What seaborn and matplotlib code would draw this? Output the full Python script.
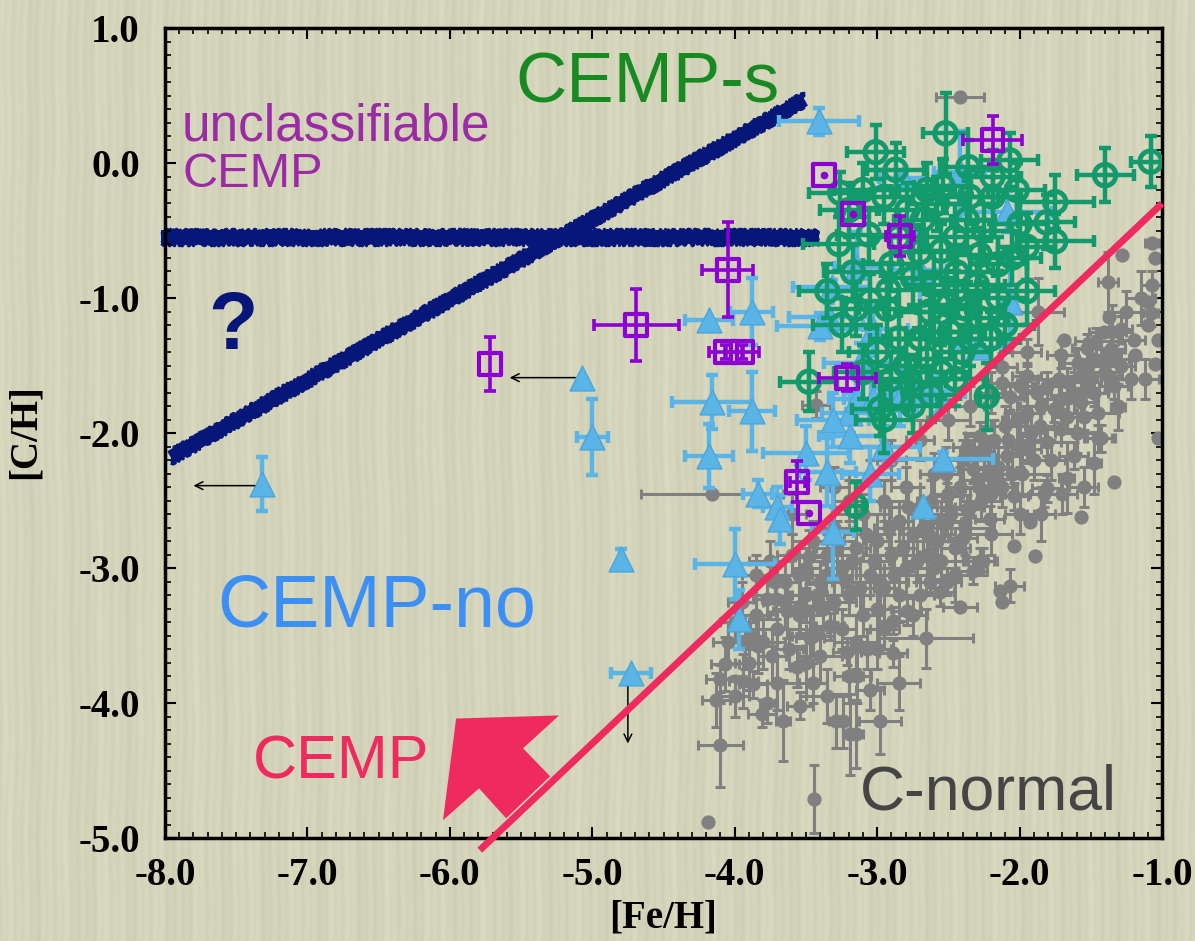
import numpy as np
import matplotlib
matplotlib.use("Agg")
import matplotlib.pyplot as plt
from matplotlib.patches import Polygon
from matplotlib.ticker import MultipleLocator, FormatStrFormatter
import matplotlib.transforms as mtransforms
import seaborn as sns

# ---------------- data ----------------
# each row: [Fe/H], [C/H], xerr, yerr   (0 = no error bar)
cemp_no_pts = [
    (-3.41, 0.31, 0.28, 0.10), (-7.32, -2.38, 0, 0.20), (-5.07, -1.59, 0, 0),
    (-5.00, -2.03, 0.11, 0.28), (-4.80, -2.93, 0, 0.07), (-4.73, -3.78, 0.14, 0),
    (-4.18, -1.16, 0.17, 0), (-3.88, -1.10, 0.15, 0.25), (-4.16, -1.77, 0.28, 0.20),
    (-3.88, -1.84, 0.16, 0.29), (-4.18, -2.17, 0.17, 0.24), (-4.00, -2.97, 0.28, 0.26),
    (-3.97, -3.38, 0, 0.22), (-3.84, -2.45, 0.10, 0.10), (-3.70, -2.55, 0.10, 0.15),
    (-3.68, -2.64, 0, 0.18), (-2.68, -2.54, 0, 0), (-2.42, -0.07, 0.18, 0.31),
    (-2.09, -0.36, 0.32, 0.15), (-2.82, -0.11, 0.17, 0.05), (-3.14, -0.77, 0.16, 0.26),
    (-2.70, -0.79, 0.19, 0.27), (-2.07, -1.03, 0.05, 0.30), (-3.32, -0.92, 0.27, 0.05),
    (-3.34, -1.14, 0.28, 0.10), (-2.29, -1.36, 0.18, 0.05), (-3.19, -1.85, 0.20, 0.15),
    (-2.84, -1.67, 0.20, 0.15), (-3.31, -1.90, 0.25, 0.20), (-3.19, -2.02, 0.22, 0.20),
    (-3.14, -1.75, 0.20, 0.15), (-3.03, -1.75, 0.20, 0.15), (-2.84, -1.75, 0.20, 0.20),
    (-2.72, -1.70, 0.20, 0.15), (-2.58, -1.70, 0.20, 0.15), (-2.54, -2.19, 0.35, 0.05),
    (-3.35, -2.29, 0.20, 0.25), (-3.31, -2.73, 0.15, 0.35), (-3.03, -1.23, 0.25, 0.20),
    (-3.40, -1.21, 0.30, 0.10), (-3.12, -1.48, 0.25, 0.15), (-3.05, -2.30, 0.20, 0.20),
    (-2.95, -2.10, 0.25, 0.15), (-3.50, -2.15, 0.30, 0.20),
]

cemp_s_pts = [
    (-2.52, 0.22, 0.16, 0.30), (-3.01, 0.08, 0.20, 0.20), (-2.87, -0.05, 0.20, 0.20),
    (-3.26, -0.22, 0.22, 0.15), (-1.40, -0.09, 0.20, 0.20), (-1.08, 0.01, 0.14, 0.19),
    (-1.75, -0.29, 0.27, 0.20), (-2.07, 0.02, 0.20, 0.20), (-2.19, -0.25, 0.20, 0.20),
    (-2.02, -0.20, 0.20, 0.20), (-1.81, -0.44, 0.20, 0.20), (-1.75, -0.58, 0.27, 0.20),
    (-1.95, -0.62, 0.20, 0.25), (-3.06, -0.53, 0.22, 0.20), (-3.27, -0.60, 0.25, 0.20),
    (-3.17, -0.81, 0.20, 0.20), (-2.92, -0.94, 0.25, 0.20), (-3.05, -1.02, 0.20, 0.20),
    (-2.93, -1.08, 0.20, 0.20), (-3.15, -1.08, 0.20, 0.20), (-2.44, -0.81, 0.25, 0.20),
    (-2.37, -1.08, 0.25, 0.20), (-1.95, -0.95, 0.20, 0.25), (-2.28, -0.68, 0.20, 0.20),
    (-2.70, -0.66, 0.20, 0.20), (-2.68, -0.42, 0.20, 0.20), (-2.79, -0.35, 0.20, 0.20),
    (-2.37, -0.42, 0.20, 0.20), (-2.54, -0.17, 0.20, 0.20), (-2.36, -0.03, 0.20, 0.20),
    (-2.19, -0.10, 0.20, 0.20), (-2.49, -1.25, 0.25, 0.20), (-2.28, -1.15, 0.20, 0.20),
    (-2.63, -1.10, 0.20, 0.20), (-3.48, -1.62, 0.20, 0.22), (-2.77, -1.62, 0.25, 0.20),
    (-2.23, -1.73, 0.05, 0.25), (-3.15, -2.54, 0.05, 0.18), (-2.58, -0.30, 0.20, 0.20),
    (-2.45, -0.55, 0.25, 0.25), (-2.60, -0.90, 0.20, 0.25), (-2.30, -0.90, 0.20, 0.20),
    (-2.85, -1.30, 0.20, 0.20), (-2.65, -1.45, 0.20, 0.20), (-2.40, -1.40, 0.20, 0.20),
    (-2.90, -0.75, 0.20, 0.20), (-2.15, -0.75, 0.20, 0.20), (-3.20, -0.35, 0.20, 0.20),
    (-2.00, -0.45, 0.20, 0.20), (-2.95, -1.90, 0.20, 0.25), (-2.55, -1.55, 0.20, 0.20),
]

cemp_s_dense = [
    (-3.10, -0.20, 0.20, 0.20), (-2.95, -0.25, 0.20, 0.20), (-2.85, -0.55, 0.20, 0.20),
    (-2.75, -0.85, 0.20, 0.20), (-2.65, -0.20, 0.20, 0.20), (-2.55, -0.65, 0.20, 0.20),
    (-2.45, -0.95, 0.20, 0.20), (-2.35, -0.25, 0.20, 0.20), (-2.25, -0.50, 0.20, 0.20),
    (-2.15, -1.00, 0.20, 0.20), (-2.05, -0.70, 0.20, 0.20), (-2.50, -1.05, 0.20, 0.20),
    (-2.60, -1.25, 0.20, 0.20), (-2.70, -1.30, 0.20, 0.20), (-2.80, -1.50, 0.20, 0.20),
    (-2.90, -1.60, 0.20, 0.20), (-3.00, -1.40, 0.20, 0.20), (-3.10, -1.55, 0.20, 0.20),
    (-2.45, -1.60, 0.20, 0.20), (-2.35, -1.30, 0.20, 0.20), (-2.20, -1.30, 0.20, 0.20),
    (-2.10, -1.20, 0.20, 0.20), (-3.25, -1.20, 0.20, 0.20), (-3.35, -0.95, 0.20, 0.20),
    (-2.98, -1.82, 0.20, 0.20), (-2.75, -1.80, 0.20, 0.20), (-2.62, -1.72, 0.20, 0.20),
]

unclass_pts = [
    (-5.72, -1.49, 0, 0.20), (-4.69, -1.20, 0.30, 0.27), (-4.05, -0.79, 0.18, 0.35),
    (-4.06, -1.40, 0.12, 0.05), (-3.95, -1.40, 0.12, 0.05), (-3.56, -2.36, 0.05, 0.15),
    (-3.48, -2.59, 0, 0), (-3.37, -0.09, 0, 0), (-3.17, -0.38, 0, 0),
    (-2.19, 0.17, 0.21, 0.18), (-3.21, -1.59, 0.20, 0.10), (-2.84, -0.54, 0.10, 0.15),
]

c_normal_upper = [
    (-2.42, 0.49, 0.17, 0), (-4.16, -2.45, 0.50, 0), (-3.43, -1.79, 0.10, 0.10),
    (-1.87, -1.10, 0.18, 0.25), (-1.07, -0.59, 0.05, 0), (-1.05, -0.70, 0, 0),
    (-1.28, -0.68, 0, 0), (-1.38, -0.88, 0.07, 0.22), (-1.37, -1.14, 0, 0),
    (-1.07, -0.90, 0.08, 0.10), (-1.08, -1.11, 0.05, 0.10), (-1.10, -1.20, 0, 0),
    (-1.20, -1.31, 0.08, 0), (-1.29, -1.23, 0.08, 0.10), (-1.41, -1.25, 0.10, 0),
    (-1.46, -1.32, 0.15, 0.10), (-1.53, -1.37, 0.10, 0.10), (-1.36, -1.38, 0.10, 0.10),
    (-1.33, -1.45, 0.10, 0), (-1.29, -1.50, 0.10, 0.10), (-1.42, -1.47, 0.10, 0.10),
    (-1.48, -1.45, 0.10, 0), (-1.19, -1.42, 0, 0), (-1.05, -1.49, 0, 0),
    (-1.03, -1.31, 0, 0), (-1.10, -1.03, 0, 0), (-1.69, -1.31, 0, 0),
    (-1.71, -1.42, 0.10, 0.10), (-1.59, -1.48, 0.10, 0.10), (-1.57, -1.58, 0.10, 0.10),
    (-1.67, -1.62, 0.10, 0.10), (-1.53, -1.62, 0.10, 0.10), (-1.38, -1.58, 0.10, 0.10),
    (-1.34, -1.65, 0.10, 0.10), (-1.48, -1.70, 0.10, 0.10), (-1.57, -1.77, 0.10, 0.10),
    (-1.71, -1.75, 0.10, 0.10), (-1.81, -1.65, 0.10, 0.10), (-1.88, -1.70, 0.10, 0.10),
    (-1.95, -1.58, 0.10, 0.10), (-2.00, -1.65, 0.10, 0.10), (-2.07, -1.73, 0.10, 0.10),
    (-2.12, -1.63, 0.10, 0.10), (-1.76, -1.82, 0.10, 0.10), (-1.67, -1.88, 0.10, 0.10),
    (-1.55, -1.88, 0.10, 0.10), (-1.31, -1.81, 0.05, 0.17), (-1.43, -2.04, 0.10, 0.10),
    (-1.48, -2.22, 0.05, 0.23), (-1.34, -2.36, 0, 0), (-1.57, -2.62, 0, 0),
    (-1.89, -2.91, 0, 0), (-2.04, -2.84, 0, 0), (-2.12, -3.25, 0, 0),
    (-2.07, -3.13, 0.10, 0.12), (-1.93, -2.66, 0, 0), (-1.67, -2.33, 0.05, 0.26),
    (-1.31, -1.80, 0, 0), (-1.03, -2.04, 0, 0), (-1.45, -2.04, 0.10, 0.10),
    (-1.83, -2.45, 0.10, 0.10), (-1.62, -2.17, 0.10, 0.10), (-1.95, -1.40, 0.10, 0.10),
    (-2.12, -1.51, 0.10, 0.10),
]

c_normal_core = [
    (-3.60, -2.90, 0.10, 0.15), (-3.50, -3.00, 0.10, 0.15), (-3.45, -2.80, 0.15, 0.15),
    (-3.40, -3.10, 0.10, 0.15), (-3.35, -2.90, 0.20, 0.15), (-3.30, -2.70, 0.10, 0.15),
    (-3.25, -3.00, 0.10, 0.20), (-3.20, -3.20, 0.15, 0.15), (-3.15, -2.85, 0.10, 0.15),
    (-3.10, -2.60, 0.20, 0.15), (-3.05, -3.05, 0.10, 0.15), (-3.00, -2.80, 0.10, 0.20),
    (-2.95, -2.50, 0.15, 0.15), (-2.95, -3.15, 0.10, 0.15), (-2.90, -2.90, 0.20, 0.15),
    (-2.85, -2.65, 0.10, 0.15), (-2.80, -2.40, 0.10, 0.15), (-2.80, -3.00, 0.15, 0.20),
    (-2.75, -2.75, 0.10, 0.15), (-2.70, -2.55, 0.20, 0.15), (-2.65, -2.90, 0.10, 0.15),
    (-2.60, -2.30, 0.10, 0.15), (-2.55, -2.65, 0.15, 0.15), (-2.50, -2.45, 0.10, 0.20),
    (-2.45, -2.85, 0.10, 0.15), (-2.40, -2.20, 0.20, 0.15), (-2.35, -2.55, 0.10, 0.15),
    (-2.30, -2.35, 0.10, 0.15), (-2.25, -2.10, 0.15, 0.15), (-2.20, -2.45, 0.10, 0.15),
    (-2.15, -2.25, 0.10, 0.20), (-2.10, -1.95, 0.10, 0.15), (-2.05, -2.30, 0.15, 0.15),
    (-2.00, -2.10, 0.10, 0.15), (-1.95, -1.85, 0.10, 0.15), (-1.90, -2.20, 0.10, 0.15),
    (-3.55, -3.35, 0.10, 0.15), (-3.45, -3.50, 0.15, 0.15), (-3.38, -3.30, 0.10, 0.20),
    (-3.65, -3.10, 0.10, 0.15), (-3.70, -3.45, 0.20, 0.15), (-3.85, -3.35, 0.10, 0.15),
    (-3.95, -3.25, 0.10, 0.15), (-3.10, -3.35, 0.15, 0.15), (-3.00, -3.30, 0.10, 0.15),
    (-2.70, -3.20, 0.10, 0.15), (-2.60, -3.00, 0.15, 0.15), (-3.30, -2.40, 0.10, 0.15),
    (-3.20, -2.50, 0.10, 0.15), (-3.05, -2.35, 0.15, 0.15), (-2.90, -2.20, 0.10, 0.15),
    (-2.70, -2.05, 0.10, 0.15), (-2.50, -1.90, 0.15, 0.15), (-2.35, -1.80, 0.10, 0.15),
    (-2.20, -1.70, 0.10, 0.15), (-3.60, -2.60, 0.10, 0.15), (-3.75, -2.95, 0.15, 0.15),
    (-3.85, -3.05, 0.10, 0.15), (-4.00, -3.40, 0.10, 0.15), (-4.05, -3.55, 0.10, 0.15),
    (-2.37, -2.10, 0.10, 0.10), (-2.21, -2.17, 0.10, 0.10), (-2.33, -2.27, 0.10, 0.10),
    (-2.51, -2.47, 0.10, 0.10), (-2.37, -2.56, 0.10, 0.10), (-2.51, -2.66, 0.10, 0.10),
    (-2.63, -2.76, 0.10, 0.10), (-2.40, -2.78, 0.10, 0.10), (-2.16, -2.34, 0.10, 0.10),
    (-2.09, -2.17, 0.10, 0.10), (-1.95, -2.12, 0.10, 0.10), (-1.81, -2.07, 0.10, 0.10),
    (-1.71, -1.97, 0.10, 0.10), (-1.86, -1.95, 0.10, 0.10), (-2.28, -2.02, 0.10, 0.10),
    (-2.28, -2.41, 0.10, 0.10), (-2.04, -2.47, 0.10, 0.10), (-1.81, -2.41, 0.10, 0.10),
    (-2.21, -2.64, 0.10, 0.10), (-2.28, -2.95, 0.10, 0.10), (-2.42, -3.29, 0.12, 0),
    (-2.79, -3.32, 0.10, 0.10), (-2.89, -3.39, 0.10, 0.10), (-2.14, -3.17, 0, 0),
    (-2.56, -3.18, 0.10, 0.10), (-2.63, -3.10, 0.10, 0.10), (-2.51, -3.10, 0.10, 0.10),
    (-2.33, -3.02, 0.10, 0.10), (-2.26, -2.95, 0.10, 0.10),
]

c_normal_fill = [
    (-3.55, -3.05, 0.15, 0.15), (-3.48, -2.92, 0.10, 0.20), (-3.42, -3.20, 0.20, 0.15),
    (-3.36, -3.05, 0.10, 0.15), (-3.28, -2.85, 0.15, 0.20), (-3.22, -3.10, 0.10, 0.15),
    (-3.18, -2.95, 0.20, 0.15), (-3.12, -3.15, 0.10, 0.20), (-3.08, -2.75, 0.15, 0.15),
    (-3.02, -2.95, 0.10, 0.15), (-2.98, -3.10, 0.20, 0.20), (-2.92, -2.70, 0.10, 0.15),
    (-2.88, -3.05, 0.15, 0.15), (-2.82, -2.85, 0.10, 0.20), (-2.78, -2.55, 0.20, 0.15),
    (-2.72, -2.95, 0.10, 0.15), (-2.68, -2.70, 0.15, 0.20), (-2.62, -2.50, 0.10, 0.15),
    (-2.58, -2.80, 0.20, 0.15), (-2.52, -2.30, 0.10, 0.20), (-2.48, -2.60, 0.15, 0.15),
    (-2.42, -2.40, 0.10, 0.15), (-2.38, -2.70, 0.20, 0.20), (-2.32, -2.15, 0.10, 0.15),
    (-2.27, -2.50, 0.15, 0.15), (-2.22, -2.30, 0.10, 0.20), (-2.18, -2.05, 0.20, 0.15),
    (-2.12, -2.40, 0.10, 0.15), (-2.08, -2.05, 0.15, 0.20), (-2.02, -1.90, 0.10, 0.15),
    (-1.98, -2.30, 0.20, 0.15), (-1.92, -2.00, 0.10, 0.20), (-1.85, -1.80, 0.15, 0.15),
    (-1.78, -2.20, 0.10, 0.15), (-1.72, -1.60, 0.15, 0.20), (-1.62, -1.70, 0.10, 0.15),
    (-1.60, -2.00, 0.15, 0.15), (-1.52, -1.50, 0.10, 0.20), (-1.45, -1.85, 0.15, 0.15),
    (-1.40, -1.55, 0.10, 0.15), (-1.35, -1.25, 0.10, 0.20), (-1.25, -1.10, 0.10, 0.15),
    (-1.22, -1.60, 0.10, 0.15), (-1.15, -1.00, 0.10, 0.20), (-1.12, -1.60, 0.10, 0.15),
    (-3.65, -3.25, 0.15, 0.20), (-3.72, -3.10, 0.10, 0.15), (-3.80, -3.55, 0.15, 0.20),
    (-3.62, -3.60, 0.10, 0.15), (-3.40, -3.65, 0.15, 0.20), (-3.25, -3.45, 0.10, 0.15),
    (-3.15, -3.55, 0.15, 0.20), (-2.95, -3.45, 0.10, 0.15), (-2.85, -3.20, 0.15, 0.20),
    (-2.75, -3.35, 0.10, 0.15), (-3.30, -3.25, 0.15, 0.15), (-3.50, -3.20, 0.10, 0.20),
    (-2.55, -2.95, 0.15, 0.15), (-2.45, -3.05, 0.10, 0.20), (-2.20, -2.75, 0.15, 0.15),
    (-2.00, -2.60, 0.10, 0.15), (-1.85, -2.60, 0.10, 0.20), (-1.70, -2.45, 0.10, 0.15),
    (-1.55, -2.40, 0.10, 0.15), (-3.90, -3.70, 0.10, 0.20), (-4.00, -3.95, 0.10, 0.15),
    (-3.70, -3.85, 0.15, 0.20), (-3.45, -3.85, 0.10, 0.15), (-3.35, -3.95, 0.15, 0.20),
    (-3.05, -3.90, 0.10, 0.15), (-2.85, -3.85, 0.15, 0.20),
]

c_normal_lower = [
    (-2.66, -3.52, 0.33, 0.22), (-2.98, -4.13, 0.15, 0.25), (-3.44, -4.71, 0, 0.25),
    (-4.10, -4.31, 0.16, 0.31), (-3.66, -4.13, 0.05, 0.30), (-3.54, -4.02, 0.09, 0.10),
    (-3.81, -4.08, 0.10, 0.10), (-3.77, -4.00, 0.05, 0.15), (-3.29, -4.13, 0.05, 0.20),
    (-3.24, -4.13, 0.05, 0.20), (-3.19, -4.23, 0.05, 0.30), (-3.15, -4.23, 0.05, 0.25),
    (-3.20, -3.80, 0.10, 0.20), (-3.14, -3.80, 0.10, 0.20), (-3.21, -3.62, 0.10, 0.10),
    (-2.89, -3.63, 0.10, 0.10), (-3.07, -3.60, 0.10, 0.15), (-3.00, -3.60, 0.10, 0.15),
    (-3.56, -3.73, 0.05, 0.15), (-3.50, -3.70, 0.05, 0.25), (-3.74, -3.65, 0.10, 0.20),
    (-3.84, -3.58, 0.10, 0.20), (-3.94, -3.84, 0.10, 0.20), (-3.87, -3.86, 0.10, 0.10),
    (-4.07, -3.71, 0.10, 0.20), (-4.10, -3.82, 0.10, 0.10), (-4.13, -3.98, 0.10, 0.20),
    (-3.93, -3.55, 0.10, 0.20), (-3.89, -3.50, 0.10, 0.10), (-3.54, -3.28, 0.10, 0.20),
    (-3.47, -3.52, 0.10, 0.20), (-3.33, -3.43, 0.10, 0.10), (-3.63, -3.32, 0.10, 0.20),
    (-3.77, -3.23, 0.10, 0.15), (-3.71, -3.23, 0.10, 0.15), (-4.19, -4.88, 0, 0),
]

# [C/Fe] = +0.7 boundary drawn as the red line
cemp_boundary = 0.7
boundary_fe = [-5.79, -1.0]

# chalk-like guide lines drawn on the slide
guide_h_fe, guide_h_c = [-8.03, -3.41], [-0.545, -0.545]
guide_d_fe, guide_d_c = [-7.96, -3.51], [-2.18, 0.47]

# upper-limit arrows (start, end)
limit_arrows = [((-5.12, -1.59), (-5.58, -1.59)),
                ((-7.37, -2.39), (-7.80, -2.39)),
                ((-4.75, -3.88), (-4.75, -4.30))]

# big pink arrow outline (annotation)
big_arrow = [(-5.956, -4.115), (-5.233, -4.092), (-5.486, -4.336), (-5.296, -4.543),
             (-5.605, -4.854), (-5.795, -4.632), (-6.048, -4.868)]

x_ticks = [-8, -7, -6, -5, -4, -3, -2, -1]
y_ticks = [1, 0, -1, -2, -3, -4, -5]

# ---------------- colours ----------------
GRAY = "#808080"
BLUE = "#5ab4e6"
GREEN = "#12996c"
PURPLE = "#8c00d4"
RED = "#ef2a5f"
NAVY = "#061679"

W, H = 1195, 941
plt.rcParams["axes.unicode_minus"] = False
fig = plt.figure(figsize=(W / 100, H / 100), dpi=100)
fig.patch.set_facecolor("#d4d4ba")

# textured slide background (decorative only)
yy, xx = np.mgrid[0:H, 0:W].astype(float)
wave = np.sin(2 * np.pi * (xx + 2.0 * np.sin(yy / 140.0) + 1.2 * np.sin(yy / 31.0)) / 8.0)
wave2 = np.sin(2 * np.pi * (xx + 3.0 * np.sin(yy / 200.0)) / 19.0)
wave3 = np.sin(2 * np.pi * (xx + 4.0 * np.sin(yy / 260.0)) / 47.0)
tex = 0.45 * wave + 0.35 * wave2 + 0.3 * wave3
base = np.array([211, 212, 186], float)
img = base[None, None, :] + (tex * 6)[..., None] * np.array([1.0, 1.0, 0.9])
img = np.clip(img, 0, 255) / 255.0
fig.figimage(img, xo=0, yo=0, zorder=-10, origin="upper")

ax = fig.add_axes([165 / W, 1 - 838 / H, (1162 - 165) / W, (838 - 28) / H])
ax.set_facecolor("none")


def split(rows):
    a = np.array(rows, float)
    return a[:, 0], a[:, 1], a[:, 2], a[:, 3]


def draw_errors(fe, c, xe, ye, color, lw, cap, z):
    mx = xe > 0
    if mx.any():
        ax.errorbar(fe[mx], c[mx], xerr=xe[mx], fmt="none", ecolor=color,
                    elinewidth=lw, capsize=cap, capthick=lw, zorder=z)
    my = ye > 0
    if my.any():
        ax.errorbar(fe[my], c[my], yerr=ye[my], fmt="none", ecolor=color,
                    elinewidth=lw, capsize=cap, capthick=lw, zorder=z)


# C-normal (grey)
g_fe, g_c, g_xe, g_ye = split(c_normal_upper + c_normal_core + c_normal_fill + c_normal_lower)
draw_errors(g_fe, g_c, g_xe, g_ye, GRAY, 2.2, 3.5, 2)
sns.scatterplot(x=g_fe, y=g_c, ax=ax, color=GRAY, s=105, marker="o",
                edgecolor=GRAY, linewidth=0, zorder=2.1, legend=False)

# CEMP-no (light blue triangles)
b_fe, b_c, b_xe, b_ye = split(cemp_no_pts)
draw_errors(b_fe, b_c, b_xe, b_ye, BLUE, 3.2, 4.5, 3)
sns.scatterplot(x=b_fe, y=b_c, ax=ax, color=BLUE, s=320, marker="^",
                edgecolor="#4aa6dc", linewidth=1, zorder=3.1, legend=False)

# CEMP-s (green open circles)
s_fe, s_c, s_xe, s_ye = split(cemp_s_pts + cemp_s_dense)
draw_errors(s_fe, s_c, s_xe, s_ye, GREEN, 3.2, 4.5, 4)
sns.scatterplot(x=s_fe, y=s_c, ax=ax, color=GREEN, s=240, marker="o",
                edgecolor=GREEN, linewidth=3.5, zorder=4.1, legend=False)
ax.collections[-1].set_facecolor("none")

# unclassifiable CEMP (purple open squares)
u_fe, u_c, u_xe, u_ye = split(unclass_pts)
draw_errors(u_fe, u_c, u_xe, u_ye, PURPLE, 2.6, 4, 5)
sns.scatterplot(x=u_fe, y=u_c, ax=ax, color=PURPLE, s=250, marker="s",
                edgecolor=PURPLE, linewidth=3.0, zorder=5.1, legend=False)
ax.collections[-1].set_facecolor("none")
nod = (u_xe == 0) & (u_ye == 0)
sns.scatterplot(x=u_fe[nod], y=u_c[nod], ax=ax, color=PURPLE, s=30, marker="o",
                linewidth=0, zorder=5.2, legend=False)

# upper-limit arrows
for (x0, y0), (x1, y1) in limit_arrows:
    ax.annotate("", xy=(x1, y1), xytext=(x0, y0),
                arrowprops=dict(arrowstyle="->", color="black", lw=1.1,
                                shrinkA=0, shrinkB=0, mutation_scale=14),
                zorder=6)

# chalk guide lines: solid core plus ragged thin strokes along the edges
for fx, fy in [(guide_h_fe, guide_h_c), (guide_d_fe, guide_d_c)]:
    ax.plot(fx, fy, color=NAVY, lw=10, solid_capstyle="butt",
            zorder=1.5, clip_on=False)
    for dy_px, sk in [(-6.0, (2.2, 3, 5)), (6.0, (2.2, 3, 5)),
                      (-3.5, (1.5, 2, 6)), (3.5, (1.5, 2, 6))]:
        off = mtransforms.offset_copy(ax.transData, fig=fig, x=0, y=dy_px, units="dots")
        ln, = ax.plot(fx, fy, color=NAVY, lw=2.4, transform=off,
                      solid_capstyle="butt", zorder=1.5, clip_on=False)
        ln.set_sketch_params(*sk)

# CEMP boundary
bfe = np.array(boundary_fe)
ax.plot(bfe, bfe + cemp_boundary, color=RED, lw=5, zorder=7,
        clip_on=False, solid_capstyle="butt")

# pink arrow
ax.add_patch(Polygon(big_arrow, closed=True, facecolor=RED, edgecolor="none",
                     zorder=7, clip_on=False))

# region labels
sans = ["Liberation Sans", "DejaVu Sans"]
ax.text(-5.54, 0.45, "CEMP-s", color="#178a22", fontsize=51, family=sans,
        ha="left", va="baseline", zorder=8)
ax.text(-7.88, 0.17, "unclassifiable", color="#9b2aa5", fontsize=37, family=sans,
        ha="left", va="baseline", zorder=8)
ax.text(-7.88, -0.18, "CEMP", color="#9b2aa5", fontsize=35, family=sans,
        ha="left", va="baseline", zorder=8)
ax.text(-7.52, -1.38, "?", color=NAVY, fontsize=58, family=sans, weight="bold",
        ha="center", va="baseline", zorder=8)
ax.text(-7.63, -3.43, "CEMP-no", color="#3c8ff5", fontsize=53, family=sans,
        ha="left", va="baseline", zorder=8)
ax.text(-7.38, -4.56, "CEMP", color=RED, fontsize=44, family=sans,
        ha="left", va="baseline", zorder=8)
ax.text(-3.12, -4.79, "C-normal", color="#454545", fontsize=45, family=sans,
        ha="left", va="baseline", zorder=8)

# axes styling
ax.set_xlim(-8, -1)
ax.set_ylim(-5, 1)
ax.set_xticks(x_ticks)
ax.set_yticks(y_ticks)
ax.xaxis.set_minor_locator(MultipleLocator(0.1))
ax.yaxis.set_minor_locator(MultipleLocator(0.1))
ax.xaxis.set_major_formatter(FormatStrFormatter("%.1f"))
ax.yaxis.set_major_formatter(FormatStrFormatter("%.1f"))
ax.tick_params(which="both", direction="in", top=True, right=True, colors="black")
ax.tick_params(which="major", length=8, width=1.5)
ax.tick_params(which="minor", length=4, width=1.2)
ax.tick_params(axis="x", which="major", pad=14)
ax.tick_params(axis="y", which="major", pad=18)
for lab in ax.get_xticklabels() + ax.get_yticklabels():
    lab.set_fontfamily("Liberation Serif")
    lab.set_fontweight("bold")
    lab.set_fontsize(28)
for sp in ax.spines.values():
    sp.set_linewidth(2.5)
    sp.set_color("black")
ax.set_xlabel("")
ax.set_ylabel("")

fig.text(663 / W, 1 - 918 / H, "[Fe/H]", ha="center", va="center",
         family="Liberation Serif", weight="bold", fontsize=28)
fig.text(25 / W, 1 - 432 / H, "[C/H]", ha="center", va="center", rotation=90,
         family="Liberation Serif", weight="bold", fontsize=28)

fig.savefig("out.png", dpi=100)
